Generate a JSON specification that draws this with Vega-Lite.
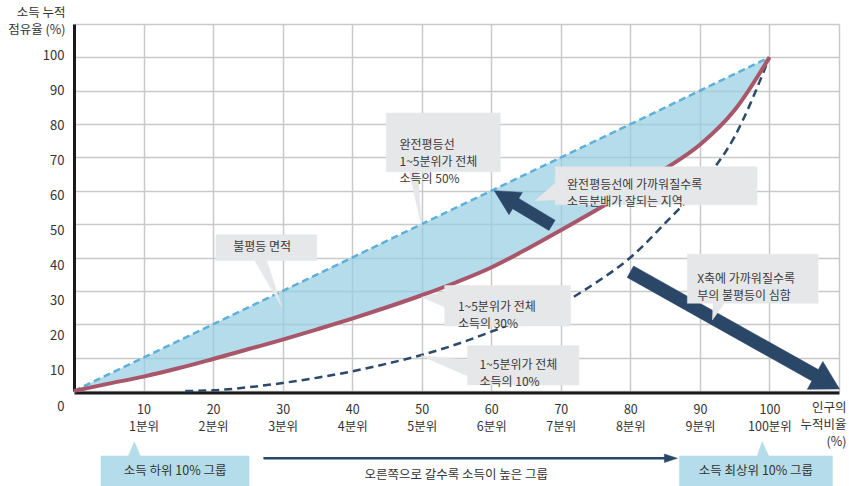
{
  "$schema": "https://vega.github.io/schema/vega-lite/v6.json",
  "width": 765,
  "height": 367,
  "autosize": {"type": "none"},
  "padding": {"left": 74, "top": 24, "right": 10, "bottom": 95},
  "background": "white",
  "config": {
    "font": "Noto Sans CJK KR",
    "view": {"stroke": null},
    "axis": {"titleFontWeight": "normal"}
  },
  "datasets": {
    "equality": [
      {"x": 0, "y": 0},
      {"x": 100, "y": 100}
    ],
    "moderate": [
      {"x": 0, "equal": 0, "y": 0},
      {"x": 5, "equal": 5, "y": 2.2},
      {"x": 10, "equal": 10, "y": 4.3},
      {"x": 15, "equal": 15, "y": 6.8},
      {"x": 20, "equal": 20, "y": 9.6},
      {"x": 25, "equal": 25, "y": 12.5},
      {"x": 30, "equal": 30, "y": 15.4},
      {"x": 35, "equal": 35, "y": 18.5},
      {"x": 40, "equal": 40, "y": 21.7},
      {"x": 45, "equal": 45, "y": 25.1},
      {"x": 50, "equal": 50, "y": 28.7},
      {"x": 55, "equal": 55, "y": 32.6},
      {"x": 60, "equal": 60, "y": 37.0},
      {"x": 65, "equal": 65, "y": 42.4},
      {"x": 70, "equal": 70, "y": 48.2},
      {"x": 75, "equal": 75, "y": 54.1},
      {"x": 80, "equal": 80, "y": 60.2},
      {"x": 85, "equal": 85, "y": 66.6},
      {"x": 90, "equal": 90, "y": 73.8},
      {"x": 95, "equal": 95, "y": 84.2},
      {"x": 100, "equal": 100, "y": 100}
    ],
    "severe": [
      {"x": 16, "y": 0},
      {"x": 20, "y": 0.2},
      {"x": 25, "y": 1.1},
      {"x": 30, "y": 2.4},
      {"x": 35, "y": 4.0},
      {"x": 40, "y": 5.9},
      {"x": 45, "y": 8.2},
      {"x": 50, "y": 10.8},
      {"x": 55, "y": 14.0},
      {"x": 60, "y": 17.8},
      {"x": 65, "y": 21.8},
      {"x": 70, "y": 26.1},
      {"x": 75, "y": 32.4},
      {"x": 80, "y": 40.0},
      {"x": 85, "y": 50.3},
      {"x": 90, "y": 61.5},
      {"x": 95, "y": 76.3},
      {"x": 100, "y": 100}
    ],
    "shapes": [
      {"shape": "A", "kind": "note", "i": 1, "x": 44.9, "y": 83.3},
      {"shape": "A", "kind": "note", "i": 2, "x": 61.3, "y": 83.3},
      {"shape": "A", "kind": "note", "i": 3, "x": 61.3, "y": 65.7},
      {"shape": "A", "kind": "note", "i": 4, "x": 49.4, "y": 65.7},
      {"shape": "A", "kind": "note", "i": 5, "x": 50.0, "y": 49.3},
      {"shape": "A", "kind": "note", "i": 6, "x": 48.2, "y": 65.7},
      {"shape": "A", "kind": "note", "i": 7, "x": 44.9, "y": 65.7},
      {"shape": "B", "kind": "note", "i": 1, "x": 69.2, "y": 67.2},
      {"shape": "B", "kind": "note", "i": 2, "x": 98.2, "y": 67.2},
      {"shape": "B", "kind": "note", "i": 3, "x": 98.2, "y": 55.8},
      {"shape": "B", "kind": "note", "i": 4, "x": 69.2, "y": 55.8},
      {"shape": "B", "kind": "note", "i": 5, "x": 69.2, "y": 57.3},
      {"shape": "B", "kind": "note", "i": 6, "x": 66.3, "y": 57.0},
      {"shape": "B", "kind": "note", "i": 7, "x": 69.2, "y": 62.3},
      {"shape": "C", "kind": "note", "i": 1, "x": 20.4, "y": 46.8},
      {"shape": "C", "kind": "note", "i": 2, "x": 34.9, "y": 46.8},
      {"shape": "C", "kind": "note", "i": 3, "x": 34.9, "y": 39.1},
      {"shape": "C", "kind": "note", "i": 4, "x": 27.7, "y": 39.1},
      {"shape": "C", "kind": "note", "i": 5, "x": 29.9, "y": 25.1},
      {"shape": "C", "kind": "note", "i": 6, "x": 26.0, "y": 39.1},
      {"shape": "C", "kind": "note", "i": 7, "x": 20.4, "y": 39.1},
      {"shape": "D", "kind": "note", "i": 1, "x": 53.3, "y": 31.6},
      {"shape": "D", "kind": "note", "i": 2, "x": 71.4, "y": 31.6},
      {"shape": "D", "kind": "note", "i": 3, "x": 71.4, "y": 19.5},
      {"shape": "D", "kind": "note", "i": 4, "x": 53.3, "y": 19.5},
      {"shape": "D", "kind": "note", "i": 5, "x": 53.3, "y": 25.2},
      {"shape": "D", "kind": "note", "i": 6, "x": 50.0, "y": 28.1},
      {"shape": "D", "kind": "note", "i": 7, "x": 53.3, "y": 29.8},
      {"shape": "E", "kind": "note", "i": 1, "x": 56.6, "y": 13.6},
      {"shape": "E", "kind": "note", "i": 2, "x": 72.6, "y": 13.6},
      {"shape": "E", "kind": "note", "i": 3, "x": 72.6, "y": 1.8},
      {"shape": "E", "kind": "note", "i": 4, "x": 56.6, "y": 1.8},
      {"shape": "E", "kind": "note", "i": 5, "x": 56.6, "y": 4.5},
      {"shape": "E", "kind": "note", "i": 6, "x": 49.9, "y": 10.6},
      {"shape": "E", "kind": "note", "i": 7, "x": 56.6, "y": 9.3},
      {"shape": "F", "kind": "note", "i": 1, "x": 88.2, "y": 41.0},
      {"shape": "F", "kind": "note", "i": 2, "x": 107.0, "y": 41.0},
      {"shape": "F", "kind": "note", "i": 3, "x": 107.0, "y": 26.3},
      {"shape": "F", "kind": "note", "i": 4, "x": 93.5, "y": 26.3},
      {"shape": "F", "kind": "note", "i": 5, "x": 91.8, "y": 21.3},
      {"shape": "F", "kind": "note", "i": 6, "x": 91.9, "y": 26.3},
      {"shape": "F", "kind": "note", "i": 7, "x": 88.2, "y": 26.3},
      {"shape": "toward", "kind": "arrow", "i": 1, "x": 69.18, "y": 51.2},
      {"shape": "toward", "kind": "arrow", "i": 2, "x": 63.96, "y": 57.73},
      {"shape": "toward", "kind": "arrow", "i": 3, "x": 64.47, "y": 59.53},
      {"shape": "toward", "kind": "arrow", "i": 4, "x": 60.43, "y": 60.04},
      {"shape": "toward", "kind": "arrow", "i": 5, "x": 62.55, "y": 52.85},
      {"shape": "toward", "kind": "arrow", "i": 6, "x": 63.06, "y": 54.65},
      {"shape": "toward", "kind": "arrow", "i": 7, "x": 68.29, "y": 48.14},
      {"shape": "away", "kind": "arrow", "i": 1, "x": 79.54, "y": 34.05},
      {"shape": "away", "kind": "arrow", "i": 2, "x": 106.1, "y": 3.0},
      {"shape": "away", "kind": "arrow", "i": 3, "x": 105.44, "y": 0.51},
      {"shape": "away", "kind": "arrow", "i": 4, "x": 110.07, "y": 0.6},
      {"shape": "away", "kind": "arrow", "i": 5, "x": 107.68, "y": 8.87},
      {"shape": "away", "kind": "arrow", "i": 6, "x": 107.02, "y": 6.41},
      {"shape": "away", "kind": "arrow", "i": 7, "x": 80.46, "y": 37.47},
      {"shape": "head", "kind": "arrow", "i": 1, "x": 84.89, "y": -18.9},
      {"shape": "head", "kind": "arrow", "i": 2, "x": 86.76, "y": -20.17},
      {"shape": "head", "kind": "arrow", "i": 3, "x": 84.89, "y": -21.44},
      {"shape": "low", "kind": "group", "i": 1, "x": 3.88, "y": -19.48},
      {"shape": "low", "kind": "group", "i": 2, "x": 7.81, "y": -19.48},
      {"shape": "low", "kind": "group", "i": 3, "x": 8.68, "y": -15.2},
      {"shape": "low", "kind": "group", "i": 4, "x": 9.54, "y": -19.48},
      {"shape": "low", "kind": "group", "i": 5, "x": 25.18, "y": -19.48},
      {"shape": "low", "kind": "group", "i": 6, "x": 25.18, "y": -29.6},
      {"shape": "low", "kind": "group", "i": 7, "x": 3.88, "y": -29.6},
      {"shape": "top", "kind": "group", "i": 1, "x": 87.05, "y": -19.48},
      {"shape": "top", "kind": "group", "i": 2, "x": 98.23, "y": -19.48},
      {"shape": "top", "kind": "group", "i": 3, "x": 98.95, "y": -15.2},
      {"shape": "top", "kind": "group", "i": 4, "x": 99.9, "y": -19.48},
      {"shape": "top", "kind": "group", "i": 5, "x": 109.06, "y": -19.48},
      {"shape": "top", "kind": "group", "i": 6, "x": 109.06, "y": -29.6},
      {"shape": "top", "kind": "group", "i": 7, "x": 87.05, "y": -29.6}
    ],
    "shaft": [
      {"x": 27.24, "x2": 85.2, "y": -20.17}
    ],
    "notes": [
      {"x": 46.8, "y": 73.7, "text": "완전평등선\n1~5분위가 전체\n소득의 50%"},
      {"x": 70.9, "y": 61.6, "text": "완전평등선에 가까워질수록\n소득분배가 잘되는 지역"},
      {"x": 22.9, "y": 43.1, "text": "불평등 면적"},
      {"x": 55.2, "y": 25.1, "text": "1~5분위가 전체\n소득의 30%"},
      {"x": 58.3, "y": 7.8, "text": "1~5분위가 전체\n소득의 10%"},
      {"x": 89.6, "y": 33.5, "text": "X축에 가까워질수록\n부의 불평등이 심함"}
    ],
    "tags": [
      {"x": 14.53, "y": -23.98, "text": "소득 하위 10% 그룹"},
      {"x": 98.06, "y": -23.98, "text": "소득 최상위 10% 그룹"},
      {"x": 54.96, "y": -25.18, "text": "오른쪽으로 갈수록 소득이 높은 그룹"}
    ]
  },
  "encoding": {
    "x": {
      "field": "x", "type": "quantitative",
      "scale": {"domain": [0, 110], "nice": false, "zero": false},
      "axis": {
        "values": [0, 10, 20, 30, 40, 50, 60, 70, 80, 90, 100, 110],
        "tickCount": 20,
        "grid": true, "gridColor": "#c9c9c9", "gridWidth": 1.5,
        "domainColor": "#1a1a1a", "domainWidth": 3,
        "ticks": false, "tickSize": 0,
        "offset": 1.5,
        "labelPadding": 11, "labelFontSize": 12.5, "labelColor": "#333333",
        "labelLineHeight": 17, "labelBaseline": "top",
        "labelFlush": false, "labelOverlap": false,
        "labelExpr": "datum.value >= 10 && datum.value <= 100 ? [datum.label, (datum.value == 100 ? '100' : '' + datum.value / 10) + '분위'] : ''",
        "title": ["인구의", "누적비율", "(%)"],
        "titleAnchor": null, "titleX": 772, "titleY": 9,
        "titleAlign": "right", "titleBaseline": "top",
        "titleFontSize": 12.5, "titleLineHeight": 17, "titleColor": "#333333"
      }
    },
    "y": {
      "field": "y", "type": "quantitative",
      "scale": {"domain": [0, 110], "nice": false, "zero": false},
      "axis": {
        "values": [0, 10, 20, 30, 40, 50, 60, 70, 80, 90, 100, 110],
        "tickCount": 20,
        "grid": true, "gridColor": "#c9c9c9", "gridWidth": 1.5,
        "domainColor": "#1a1a1a", "domainWidth": 3,
        "ticks": false, "tickSize": 0,
        "labelPadding": 10, "labelFontSize": 13, "labelColor": "#333333",
        "labelOverlap": false, "labelFlush": false,
        "labelOffset": {"expr": "15 - 0.164 * datum.value"},
        "labelExpr": "datum.value > 100 ? '' : datum.label",
        "title": ["소득 누적", "점유율 (%)"],
        "titleAngle": 0, "titleAnchor": null, "titleX": -9, "titleY": -18,
        "titleAlign": "right", "titleBaseline": "top",
        "titleFontSize": 12.5, "titleLineHeight": 17, "titleColor": "#333333"
      }
    }
  },
  "layer": [
    {
      "data": {"name": "moderate"},
      "mark": {"type": "area", "interpolate": "monotone", "fill": "#95cde1", "fillOpacity": 0.7},
      "encoding": {
        "y2": {"field": "equal"}
      }
    },
    {
      "data": {"name": "equality"},
      "mark": {"type": "line", "stroke": "#5eb0d8", "strokeWidth": 2.5, "strokeDash": [7, 4]}
    },
    {
      "data": {"name": "severe"},
      "mark": {"type": "line", "interpolate": "monotone", "stroke": "#2b4a6b", "strokeWidth": 2.5, "strokeDash": [8, 5]}
    },
    {
      "data": {"name": "moderate"},
      "mark": {"type": "line", "interpolate": "monotone", "stroke": "#a9566b", "strokeWidth": 4}
    },
    {
      "data": {"name": "shapes"},
      "transform": [{"filter": "datum.kind === 'arrow'"}],
      "mark": {"type": "line", "interpolate": "linear-closed", "fill": "#2b4768", "stroke": "#2b4768", "strokeWidth": 0.5},
      "encoding": {
        "detail": {"field": "shape"},
        "order": {"field": "i"}
      }
    },
    {
      "data": {"name": "shaft"},
      "mark": {"type": "rule", "stroke": "#2b4768", "strokeWidth": 2.5},
      "encoding": {
        "x2": {"field": "x2"}
      }
    },
    {
      "data": {"name": "shapes"},
      "transform": [{"filter": "datum.kind === 'note'"}],
      "mark": {"type": "line", "interpolate": "linear-closed", "fill": "#e6e7e9", "stroke": "#e6e7e9", "strokeWidth": 0.5},
      "encoding": {
        "detail": {"field": "shape"},
        "order": {"field": "i"}
      }
    },
    {
      "data": {"name": "shapes"},
      "transform": [{"filter": "datum.kind === 'group'"}],
      "mark": {"type": "line", "interpolate": "linear-closed", "fill": "#b5dcea", "stroke": "#b5dcea", "strokeWidth": 0.5},
      "encoding": {
        "detail": {"field": "shape"},
        "order": {"field": "i"}
      }
    },
    {
      "data": {"name": "notes"},
      "mark": {"type": "text", "align": "left", "baseline": "middle", "lineBreak": "\n", "lineHeight": 16.7, "fontSize": 12, "color": "#3a3a3a"},
      "encoding": {
        "text": {"field": "text"}
      }
    },
    {
      "data": {"name": "tags"},
      "mark": {"type": "text", "align": "center", "baseline": "middle", "fontSize": 12.5, "color": "#333333"},
      "encoding": {
        "text": {"field": "text"}
      }
    }
  ]
}
